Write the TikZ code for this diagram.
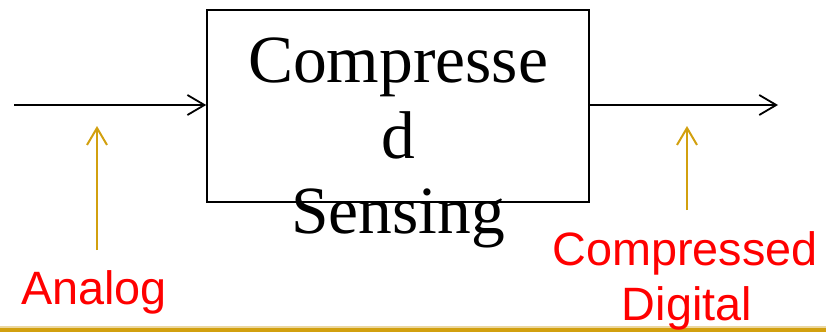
\documentclass[tikz,border=0pt]{standalone}
\usepackage{fontspec}
\setmainfont{Liberation Serif}
\setsansfont{Liberation Sans}
\usetikzlibrary{arrows.meta,positioning}
\definecolor{goldline}{RGB}{210,160,15}
\definecolor{goldpale}{RGB}{235,215,160}

\begin{document}
\begin{tikzpicture}[x=1bp, y=-1bp,
    blockbox/.style={draw, line width=1.6bp, minimum width=382bp, minimum height=192bp, inner sep=0},
    bigtxt/.style={font=\fontsize{67.5bp}{76bp}\selectfont, inner sep=0, anchor=base},
    redlbl/.style={font=\sffamily\fontsize{46.8bp}{55bp}\selectfont, text=red, inner sep=0, anchor=base},
    arr/.style={-{Straight Barb[length=17bp,width=20bp]}, line width=1.8bp},
    goldarr/.style={-{Straight Barb[length=17bp,width=20bp]}, goldline, line width=2bp}
]
\useasboundingbox (0,0) rectangle (826,332);

% bottom rule
\fill[goldpale] (0,326) rectangle (826,328);
\fill[goldline] (0,328) rectangle (826,332);

\node[blockbox] (cs) at (398,106) {};
\foreach \t/\yy [count=\i] in {Compresse/82, d/158, Sensing/233}
    \node[bigtxt] (cs-l\i) at (398,\yy) {\t};

\coordinate (src) at (14,105);
\coordinate (dst) at (778,105);
\draw[arr] (src) -- (cs.west |- src);
\draw[arr] (cs.east |- dst) -- (dst);

\node[redlbl] (analog) at (94,304) {Analog};
\node[redlbl] (cd1) at (685,265) {Compressed};
\node[redlbl] (cd2) at (687,320) {Digital};

\coordinate (in-foot) at (97,250);
\coordinate (in-tip) at (97,126);
\coordinate (out-foot) at (687,210);
\coordinate (out-tip) at (687,126);
\draw[goldarr] (in-foot) -- (in-tip);
\draw[goldarr] (out-foot) -- (out-tip);
\end{tikzpicture}
\end{document}
